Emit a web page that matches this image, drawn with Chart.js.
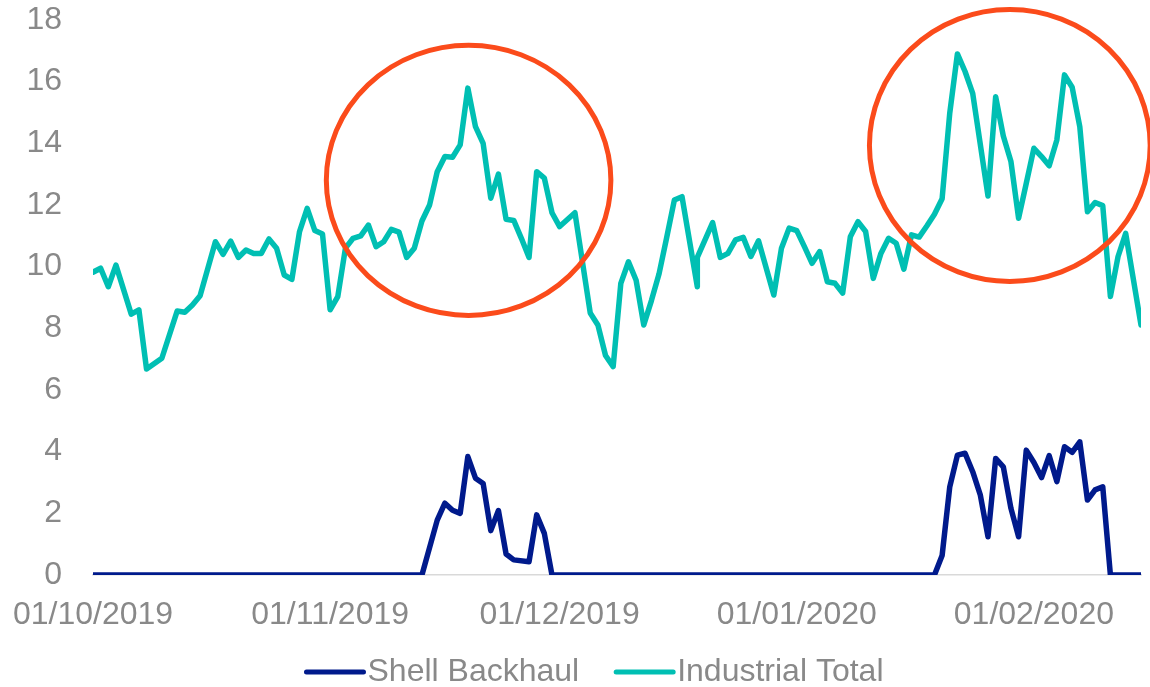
<!DOCTYPE html>
<html>
<head>
<meta charset="utf-8">
<script src="https://cdn.jsdelivr.net/npm/chart.js@4.4.1/dist/chart.umd.min.js"></script>
<style>
  html, body { margin: 0; padding: 0; background: #fff; }
  #wrap { width: 1150px; height: 687px; }
</style>
</head>
<body>
<div id="wrap"><canvas id="myChart" width="1150" height="687"></canvas></div>
<script>
// x values are days counted from 01/10/2019
var industrialDays = [0,1,2,3,5,6,7,9,11,12,13,14,16,17,18,19,20,21,22,23,24,25,26,27,28,29,30,31,32,33,34,35,36,37,38,39,40,41,42,43,44,45,46,47,48,49,50,51,52,53,54,55,56,57,58,59,60,61,63,65,66,67,68,69,70,71,72,73,74,75,76,77,79,79,81,82,83,84,85,86,87,89,90,91,92,93,94,95,96,97,98,99,100,101,102,103,104,105,106,107,108,109,110,111,112,113,114,115,117,118,119,120,121,122,123,124,125,126,127,128,129,130,131,132,133,134,135,137];
var industrialTotal = [9.82,9.95,9.35,10.05,8.46,8.6,6.68,7.03,8.56,8.52,8.76,9.06,10.81,10.4,10.83,10.3,10.54,10.43,10.43,10.9,10.6,9.73,9.59,11.14,11.89,11.17,11.06,8.6,9.03,10.6,10.92,11.0,11.35,10.65,10.81,11.21,11.12,10.3,10.6,11.48,12.0,13.08,13.57,13.55,13.95,15.79,14.54,14.0,12.22,13.0,11.54,11.5,10.92,10.3,13.08,12.87,11.75,11.3,11.75,8.5,8.11,7.12,6.76,9.46,10.16,9.56,8.11,8.9,9.77,10.95,12.16,12.27,9.35,10.3,11.43,10.3,10.43,10.87,10.95,10.33,10.84,9.08,10.6,11.25,11.17,10.65,10.11,10.49,9.51,9.46,9.14,10.97,11.46,11.14,9.62,10.43,10.92,10.76,9.92,11.03,10.96,11.32,11.7,12.2,14.98,16.9,16.33,15.62,12.29,15.51,14.24,13.41,11.57,12.7,13.84,13.57,13.27,14.11,16.22,15.82,14.54,11.78,12.08,11.98,9.03,10.33,11.08,8.11];

var backhaulDays = [0,43,45,46,47,48,49,50,51,52,53,54,55,57,58,59,60,110,111,112,113,114,115,116,117,118,119,120,121,122,123,124,125,126,127,128,129,130,131,132,133,137];
var shellBackhaul = [0,0,1.78,2.33,2.1,2.0,3.84,3.14,2.97,1.44,2.09,0.68,0.49,0.43,1.95,1.35,0,0,0.63,2.86,3.89,3.95,3.35,2.59,1.24,3.78,3.51,2.16,1.24,4.05,3.65,3.16,3.87,3.03,4.16,3.98,4.32,2.43,2.76,2.86,0,0];

var tickDays = [0, 31, 61, 92, 123];
var tickLabels = ['01/10/2019', '01/11/2019', '01/12/2019', '01/01/2020', '01/02/2020'];

// the two red rings, in data units
var rings = [
  { day: 49.1, value: 12.8, dayRadius: 18.6, valueRadius: 4.38 },
  { day: 119.85, value: 13.93, dayRadius: 18.35, valueRadius: 4.41 }
];

var grey = '#898989';
var font = '"Liberation Sans", Arial, sans-serif';

function toPoints(xs, ys) {
  return xs.map(function(x, i) { return { x: x, y: ys[i] }; });
}

var overlay = {
  id: 'overlay',
  afterDatasetsDraw: function(chart) {
    var ctx = chart.ctx, xs = chart.scales.x, ys = chart.scales.y;
    ctx.save();
    ctx.strokeStyle = '#fb4b1b';
    ctx.lineWidth = 5;
    rings.forEach(function(r) {
      var cx = xs.getPixelForValue(r.day), cy = ys.getPixelForValue(r.value);
      var rx = xs.getPixelForValue(r.day + r.dayRadius) - cx;
      var ry = cy - ys.getPixelForValue(r.value + r.valueRadius);
      ctx.beginPath();
      ctx.ellipse(cx, cy, rx, ry, 0, 0, Math.PI * 2);
      ctx.stroke();
    });
    ctx.restore();
  },
  afterDraw: function(chart) {
    // legend: line marker then label, centred under the plot
    var ctx = chart.ctx;
    var sets = chart.data.datasets;
    var lineLen = 57, gapText = 4, gapItem = 37, y = 672;
    ctx.save();
    ctx.font = '32px ' + font;
    var total = 0;
    sets.forEach(function(ds, i) {
      total += lineLen + gapText + ctx.measureText(ds.label).width + (i ? gapItem : 0);
    });
    var x = 595 - total / 2;
    sets.forEach(function(ds) {
      ctx.strokeStyle = ds.borderColor;
      ctx.lineWidth = 5;
      ctx.lineCap = 'round';
      ctx.beginPath();
      ctx.moveTo(x, y);
      ctx.lineTo(x + lineLen, y);
      ctx.stroke();
      x += lineLen + gapText;
      ctx.fillStyle = grey;
      ctx.textAlign = 'left';
      ctx.textBaseline = 'middle';
      ctx.fillText(ds.label, x, y);
      x += ctx.measureText(ds.label).width + gapItem;
    });
    ctx.restore();
  }
};

var context = document.getElementById('myChart');
var chart = new Chart(context, {
  type: 'line',
  data: {
    datasets: [{
      label: 'Shell Backhaul',
      data: toPoints(backhaulDays, shellBackhaul),
      borderColor: '#001a8c',
      borderWidth: 5.5,
      pointRadius: 0,
      tension: 0,
      borderJoinStyle: 'round',
      borderCapStyle: 'round'
    }, {
      label: 'Industrial Total',
      data: toPoints(industrialDays, industrialTotal),
      borderColor: '#00bfb3',
      borderWidth: 5.5,
      pointRadius: 0,
      tension: 0,
      borderJoinStyle: 'round',
      borderCapStyle: 'round'
    }]
  },
  options: {
    responsive: false,
    animation: false,
    layout: { padding: { top: 20, right: 9, left: 0, bottom: 0 } },
    plugins: {
      legend: { display: false },
      tooltip: { enabled: false }
    },
    scales: {
      x: {
        type: 'linear',
        min: 0,
        max: 137,
        grid: { display: false, drawTicks: false },
        border: { display: true, color: '#d9d9d9', width: 1.5 },
        afterFit: function(scale) {
          scale.height = 112;
          scale.paddingLeft = 0;
          scale.paddingRight = 0;
        },
        afterBuildTicks: function(scale) {
          scale.ticks = tickDays.map(function(d) { return { value: d }; });
        },
        ticks: {
          autoSkip: false,
          maxRotation: 0,
          padding: 21,
          color: grey,
          font: { size: 32, family: font },
          callback: function(value) {
            var i = tickDays.indexOf(value);
            return i >= 0 ? tickLabels[i] : '';
          }
        }
      },
      y: {
        min: 0,
        max: 18,
        grid: { display: false, drawTicks: false },
        border: { display: false },
        afterFit: function(scale) {
          scale.width = 93;
          scale.paddingTop = 0;
          scale.paddingBottom = 0;
        },
        ticks: {
          stepSize: 2,
          padding: 31,
          color: grey,
          font: { size: 32, family: font }
        }
      }
    }
  },
  plugins: [overlay]
});
</script>
</body>
</html>
